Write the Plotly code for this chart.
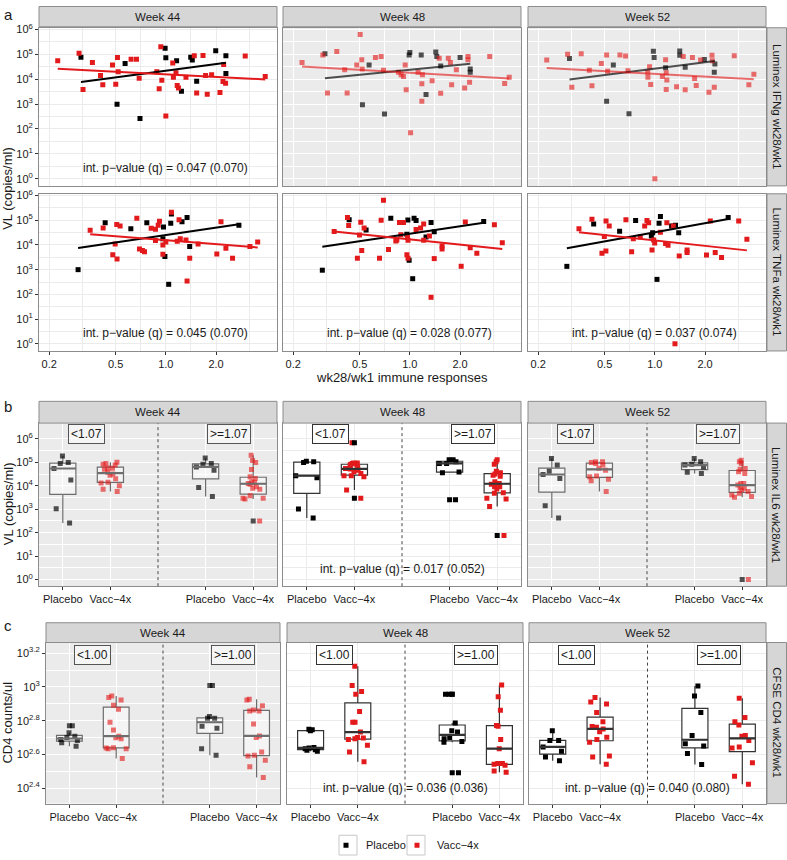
import numpy as np
import plotly.graph_objects as go

# ======================= DATA =======================
# Panel a: wk28/wk1 immune response ratio (x) vs viral load VL (copies/ml)
# --- Luminex IFNg ---
ifng_w44_plac_x = [0.31, 0.51, 0.57, 0.70, 0.99, 1.00, 1.16, 1.24, 1.41, 1.44, 1.53, 1.99, 2.29, 2.29]
ifng_w44_plac_vl = [77000, 990, 43000, 260, 176000, 73000, 55000, 3300, 77000, 59000, 8300, 140000, 87000, 17000]
ifng_w44_vacc_x = [0.225, 0.302, 0.319, 0.363, 0.406, 0.419, 0.479, 0.501, 0.513, 0.518, 0.619, 0.667, 0.692,
                   0.883, 0.912, 0.933, 0.946, 1.00, 1.10, 1.11, 1.15, 1.17, 1.19, 1.32, 1.48, 1.53, 1.67, 1.73,
                   1.77, 1.88, 2.11, 2.20, 2.22, 2.28, 2.99, 3.94]
ifng_w44_vacc_vl = [55000, 110000, 3900, 47000, 14000, 6000, 37000, 6300, 75000, 20000, 64000, 64000, 11000,
                    20000, 4100, 200000, 9100, 330, 45000, 12000, 18000, 5600, 4400, 12000, 87000, 2800, 90000,
                    14000, 2500, 15000, 2900, 8100, 39000, 6900, 85000, 13000]

ifng_w48_plac_x = [0.31, 0.52, 0.57, 0.705, 0.99, 1.00, 1.17, 1.25, 1.43, 1.45, 1.53, 2.00, 2.30, 2.30]
ifng_w48_plac_vl = [105000, 950, 37000, 400, 95000, 120000, 95000, 2400, 125000, 82000, 34000, 75000, 26000, 19000]
ifng_w48_vacc_x = [0.226, 0.301, 0.321, 0.365, 0.407, 0.421, 0.481, 0.504, 0.515, 0.518, 0.622, 0.673, 0.695,
                   0.855, 0.887, 0.916, 0.938, 0.951, 1.01, 1.12, 1.18, 1.19, 1.18, 1.36, 1.50, 1.53, 1.70, 1.75,
                   1.78, 1.90, 2.13, 2.23, 2.23, 2.28, 3.01, 3.70, 3.94]
ifng_w48_vacc_vl = [47000, 95000, 2800, 130000, 24000, 2800, 37000, 630000, 60000, 26000, 75000, 82000, 23000,
                    19000, 15000, 13000, 37000, 3800, 71, 19000, 6500, 15000, 1300, 8600, 70000, 2700, 69000,
                    47000, 6000, 24000, 4400, 82000, 60000, 7600, 82000, 6700, 12000]

ifng_w52_plac_x = [0.308, 0.514, 0.564, 0.70, 0.98, 0.99, 1.16, 1.41, 1.41, 1.52, 1.98, 2.29, 2.27]
ifng_w52_plac_vl = [68000, 1300, 37000, 410, 134000, 75000, 29000, 137000, 92000, 30000, 62000, 41000, 19000]
ifng_w52_vacc_x = [0.225, 0.300, 0.318, 0.362, 0.405, 0.42, 0.478, 0.514, 0.521, 0.618, 0.668, 0.69, 0.906,
                   0.909, 0.93, 0.944, 1.00, 1.11, 1.16, 1.17, 1.18, 1.17, 1.35, 1.48, 1.52, 1.68, 1.73, 1.77,
                   1.88, 2.11, 2.20, 2.21, 2.27, 2.99, 3.66, 3.92]
ifng_w52_vacc_vl = [59000, 100000, 4800, 105000, 23000, 5400, 43000, 95000, 21000, 95000, 86000, 22000, 19000,
                    12000, 32000, 6100, 1, 13000, 60000, 18000, 9400, 3900, 5000, 82000, 3800, 75000, 10600,
                    5600, 59000, 3000, 92000, 55000, 4800, 87000, 6000, 16000]

# --- Luminex TNFa ---
tnfa_w44_plac_x = [0.298, 0.433, 0.617, 0.769, 0.968, 0.96, 0.987, 1.04, 1.07, 1.08, 1.25, 1.34, 1.39, 2.74]
tnfa_w44_plac_vl = [1000, 79000, 45000, 79000, 53000, 18000, 3400, 255, 76000, 180000, 86000, 130000, 8600, 62000]
tnfa_w44_vacc_x = [0.352, 0.421, 0.497, 0.481, 0.508, 0.51, 0.532, 0.67, 0.695, 0.724, 0.745, 0.817, 0.867,
                   0.867, 0.90, 0.916, 0.96, 0.96, 1.00, 1.08, 1.17, 1.20, 1.22, 1.32, 1.34, 1.39, 1.56, 2.02,
                   2.14, 2.29, 2.51, 3.19, 3.55]
tnfa_w44_vacc_vl = [39000, 48000, 10800, 4000, 67000, 2700, 58000, 120000, 6900, 6000, 5300, 47000, 43000,
                    15000, 62000, 91000, 9900, 4200, 13000, 210000, 14000, 104000, 18000, 16000, 346, 2900,
                    11000, 4300, 86000, 7300, 2900, 8600, 13000]

tnfa_w48_plac_x = [0.299, 0.433, 0.547, 0.769, 0.973, 1.06, 1.09, 1.34, 1.40, 0.96, 0.99, 1.04, 1.25, 2.77]
tnfa_w48_plac_vl = [950, 105000, 40000, 120000, 103000, 120000, 97000, 80000, 34000, 27000, 2400, 430, 21000, 89000]
tnfa_w48_vacc_x = [0.352, 0.423, 0.43, 0.485, 0.508, 0.499, 0.515, 0.532, 0.658, 0.673, 0.695, 0.745, 0.836,
                   0.824, 0.867, 0.916, 0.883, 0.968, 0.975, 0.96, 0.975, 1.09, 1.16, 1.21, 1.21, 1.31, 1.34,
                   1.40, 1.56, 1.56, 2.03, 2.15, 2.30, 2.52, 3.21, 3.58]
tnfa_w48_vacc_vl = [35000, 130000, 61000, 2900, 83000, 25000, 5900, 48000, 2900, 100000, 640000, 6600, 16000,
                    14500, 80000, 80000, 26000, 20000, 15500, 4000, 2900, 42000, 49000, 71000, 15500, 23000, 76,
                    2800, 9000, 6900, 1370, 84000, 7700, 4600, 66000, 12300]

tnfa_w52_plac_x = [0.297, 0.43, 0.615, 0.767, 0.953, 0.97, 1.03, 1.06, 1.08, 1.26, 1.33, 1.39, 2.75]
tnfa_w52_plac_vl = [1360, 71000, 36000, 97000, 23000, 31000, 404, 75000, 140000, 58000, 62000, 31000, 130000]
tnfa_w52_vacc_x = [0.351, 0.42, 0.482, 0.498, 0.509, 0.51, 0.533, 0.671, 0.726, 0.743, 0.818, 0.869, 0.897,
                   0.918, 0.962, 0.984, 0.998, 1.08, 1.16, 1.18, 1.20, 1.29, 1.32, 1.40, 1.56, 1.56, 2.04, 2.15,
                   2.30, 2.51, 3.18, 3.56]
tnfa_w52_vacc_vl = [45000, 110000, 4600, 22000, 5700, 92000, 58000, 105000, 5300, 18000, 21000, 58000, 97000,
                    79000, 6300, 16000, 12000, 33000, 11500, 79000, 9800, 58000, 1, 3600, 6300, 5000, 3900,
                    92000, 4900, 3100, 92000, 17000]

# Panel b: VL (copies/ml) by Luminex IL6 wk28/wk1 group (<1.07 / >=1.07)
il6_w44_lo_plac = [186000, 88300, 97700, 54300, 17500, 1050, 261]
il6_w44_lo_vacc = [100000, 89100, 83200, 75900, 57500, 55000, 50100, 38000, 31600, 28200, 20000, 14100,
                   13200, 10000, 7080, 5620]
il6_w44_hi_plac = [88300, 45700, 83200, 151000, 63100, 8510, 3470]
il6_w44_hi_vacc = [200000, 120000, 97700, 49000, 24000, 20400, 14800, 11700, 12600, 13500, 9120, 7760, 7080,
                   3720, 2950, 2950, 2690, 316]
il6_w48_lo_plac = [105000, 110000, 97700, 26900, 21900, 1020, 427]
il6_w48_lo_vacc = [676000, 93300, 93300, 89100, 83200, 79400, 75900, 63100, 53700, 51300, 45700, 39800,
                   33100, 26900, 26900, 24000, 6610, 2950]
il6_w48_hi_plac = [129000, 129000, 105000, 89100, 89100, 38900, 35500, 2510]
il6_w48_hi_vacc = [129000, 105000, 83200, 41700, 35500, 31600, 28200, 25100, 14800, 12600, 11700, 9120, 9120,
                   7240, 5010, 4790, 2950, 2690, 1320, 76]
il6_w52_lo_plac = [145000, 75900, 41700, 30200, 20400, 1410, 427]
il6_w52_lo_vacc = [105000, 105000, 97700, 89100, 75900, 55000, 45700, 25700, 24000, 19100, 16200, 5620]
il6_w52_hi_plac = [145000, 105000, 83200, 75900, 63100, 37200, 33100]
il6_w52_hi_vacc = [123000, 105000, 89100, 53700, 50100, 39800, 33100, 12600, 12600, 10700, 8510, 7760, 6610,
                   5620, 4790, 4070, 3470, 3240, 1]

# Panel c: CD4 counts/ul by CFSE CD4 wk28/wk1 group (<1.00 / >=1.00)
cd4_w44_lo_plac = [589, 535, 511, 501, 489, 482, 467, 445]
cd4_w44_lo_vacc = [883, 865, 838, 780, 738, 617, 556, 511, 500, 493, 437, 435, 431, 431, 377]
cd4_w44_hi_plac = [1021, 668, 652, 652, 585, 569, 431, 394]
cd4_w44_hi_vacc = [845, 838, 773, 731, 721, 721, 603, 513, 501, 412, 394, 390, 368, 337, 291]
cd4_w48_lo_plac = [562, 558, 551, 438, 435, 431, 425, 421, 416]
cd4_w48_lo_vacc = [1324, 1021, 938, 904, 716, 617, 617, 540, 501, 498, 493, 489, 451, 412, 360]
cd4_w48_hi_plac = [904, 904, 611, 550, 540, 501, 493, 475, 471, 310]
cd4_w48_hi_vacc = [1026, 875, 728, 590, 585, 489, 431, 352, 352, 348, 344, 318, 312]
cd4_w52_lo_plac = [551, 482, 482, 441, 416, 385, 365]
cd4_w52_lo_vacc = [865, 815, 791, 706, 622, 582, 577, 564, 543, 504, 489, 471, 390, 385, 348]
cd4_w52_hi_plac = [1012, 883, 706, 515, 460, 447, 403, 347]
cd4_w52_hi_vacc = [857, 659, 622, 596, 515, 511, 482, 441, 435, 356, 296, 265]

weeks = ["Week 44", "Week 48", "Week 52"]
arm_labels = ["Placebo", "Vacc\u22124x"]
row_strips = ["Luminex IFNg wk28/wk1", "Luminex TNFa wk28/wk1", "Luminex IL6 wk28/wk1", "CFSE CD4 wk28/wk1"]
pvals_a = {(0, 0): "0.047 (0.070)", (1, 0): "0.045 (0.070)", (1, 1): "0.028 (0.077)", (1, 2): "0.037 (0.074)"}
pval_b = {1: "0.017 (0.052)"}
pval_c = {1: "0.036 (0.036)", 2: "0.040 (0.080)"}
cuts_b = ["&lt;1.07", "&gt;=1.07"]
cuts_c = ["&lt;1.00", "&gt;=1.00"]

a_data = {
    (0, 0): (ifng_w44_plac_x, ifng_w44_plac_vl, ifng_w44_vacc_x, ifng_w44_vacc_vl),
    (0, 1): (ifng_w48_plac_x, ifng_w48_plac_vl, ifng_w48_vacc_x, ifng_w48_vacc_vl),
    (0, 2): (ifng_w52_plac_x, ifng_w52_plac_vl, ifng_w52_vacc_x, ifng_w52_vacc_vl),
    (1, 0): (tnfa_w44_plac_x, tnfa_w44_plac_vl, tnfa_w44_vacc_x, tnfa_w44_vacc_vl),
    (1, 1): (tnfa_w48_plac_x, tnfa_w48_plac_vl, tnfa_w48_vacc_x, tnfa_w48_vacc_vl),
    (1, 2): (tnfa_w52_plac_x, tnfa_w52_plac_vl, tnfa_w52_vacc_x, tnfa_w52_vacc_vl),
}
b_data = [
    (il6_w44_lo_plac, il6_w44_lo_vacc, il6_w44_hi_plac, il6_w44_hi_vacc),
    (il6_w48_lo_plac, il6_w48_lo_vacc, il6_w48_hi_plac, il6_w48_hi_vacc),
    (il6_w52_lo_plac, il6_w52_lo_vacc, il6_w52_hi_plac, il6_w52_hi_vacc),
]
c_data = [
    (cd4_w44_lo_plac, cd4_w44_lo_vacc, cd4_w44_hi_plac, cd4_w44_hi_vacc),
    (cd4_w48_lo_plac, cd4_w48_lo_vacc, cd4_w48_hi_plac, cd4_w48_hi_vacc),
    (cd4_w52_lo_plac, cd4_w52_lo_vacc, cd4_w52_hi_plac, cd4_w52_hi_vacc),
]

# ======================= STYLE / LAYOUT =======================
W, H = 787, 860
FONT = "Liberation Sans, Arial, Helvetica, sans-serif"
TXT = "#1A1A1A"
BORDER = "#8C8C8C"
STRIP_FILL = "#D6D6D6"
GRID = "#EBEBEB"
RED, BLACK = "#E31A1C", "#000000"
RED_F, BLACK_F = "rgba(227,26,28,0.62)", "rgba(0,0,0,0.68)"
BOX_W = 0.55


def fx(p):
    return p / W


def fy(p):
    return 1 - p / H


def ax_keys(i):
    s = "" if i == 1 else str(i)
    return "xaxis" + s, "yaxis" + s, "x" + s, "y" + s


cols_ab = [(39, 277), (283, 521), (528, 766)]
cols_c = [(46, 280), (287, 523), (529, 766)]
faded_flags = [False, True, True, False, False, False, True, False, True, True, False, False]

panels = []
for r, (y0, y1) in enumerate([(22, 182), (190, 349)]):
    for c in range(3):
        panels.append(dict(kind="a", row=r, col=c, x0=cols_ab[c][0], x1=cols_ab[c][1], y0=y0, y1=y1))
for c in range(3):
    panels.append(dict(kind="b", row=0, col=c, x0=cols_ab[c][0], x1=cols_ab[c][1], y0=422, y1=587))
for c in range(3):
    panels.append(dict(kind="c", row=0, col=c, x0=cols_c[c][0], x1=cols_c[c][1], y0=644, y1=807))

decade_vals = [1, 10, 100, 1e3, 1e4, 1e5, 1e6]
decade_txt = ["10<sup>%d</sup>" % k for k in range(7)]
half_decades = [3.162, 31.62, 316.2, 3162, 31623, 316228]
cd4_ticks = [251.2, 398.1, 631.0, 1000, 1584.9]
cd4_txt = ["10<sup>2.4</sup>", "10<sup>2.6</sup>", "10<sup>2.8</sup>", "10<sup>3</sup>", "10<sup>3.2</sup>"]
cd4_minor = [316.2, 501.2, 794.3, 1258.9]

fig = go.Figure()
layout = dict(width=W, height=H, margin=dict(l=0, r=0, t=0, b=0), plot_bgcolor="white",
              paper_bgcolor="white", font=dict(family=FONT, color=TXT, size=12), boxmode="overlay")
shapes, annotations = [], []


def text(x, y, s, size=12, xref="paper", yref="paper", angle=0, xanchor="center", yanchor="middle", **kw):
    d = dict(x=x, y=y, text=s, xref=xref, yref=yref, showarrow=False, textangle=angle,
             xanchor=xanchor, yanchor=yanchor, font=dict(size=size, color=TXT, family=FONT))
    d.update(kw)
    annotations.append(d)


for i, p in enumerate(panels, start=1):
    xk, yk, xr, yr = ax_keys(i)
    faded = faded_flags[i - 1]
    p["faded"] = faded
    gc = "white" if faded else GRID
    show_x = (p["kind"] != "a") or p["row"] == 1
    show_y = p["col"] == 0
    common = dict(showline=True, mirror=True, linecolor=BORDER, linewidth=1, zeroline=False,
                  showgrid=True, gridcolor=gc, gridwidth=1, tickcolor="#333", tickwidth=1, ticklen=3,
                  tickfont=dict(size=11, color=TXT, family=FONT))
    xa = dict(common, domain=[fx(p["x0"]), fx(p["x1"])], anchor=yr,
              showticklabels=show_x, ticks="outside" if show_x else "")
    ya = dict(common, domain=[fy(p["y1"]), fy(p["y0"])], anchor=xr,
              showticklabels=show_y, ticks="outside" if show_y else "")
    if p["kind"] == "a":
        xa.update(type="log", range=[-0.76, 0.666], tickmode="array", tickvals=[0.2, 0.5, 1, 2],
                  ticktext=["0.2", "0.5", "1.0", "2.0"],
                  minor=dict(tickvals=[0.316, 0.707, 1.414, 3.162], showgrid=True, gridcolor=gc, gridwidth=0.5))
        ya.update(type="log", range=[-0.29, 6.07], tickmode="array", tickvals=decade_vals, ticktext=decade_txt,
                  minor=dict(tickvals=half_decades, showgrid=True, gridcolor=gc, gridwidth=0.5))
    else:
        xa.update(type="linear", range=[0.5, 5.5], tickmode="array", tickvals=[1, 2, 4, 5],
                  ticktext=arm_labels * 2)
        if p["kind"] == "b":
            ya.update(type="log", range=[-0.28, 6.67], tickmode="array", tickvals=decade_vals,
                      ticktext=decade_txt,
                      minor=dict(tickvals=half_decades, showgrid=True, gridcolor=gc, gridwidth=0.5))
        else:
            ya.update(type="log", range=[2.309, 3.263], tickmode="array", tickvals=cd4_ticks, ticktext=cd4_txt,
                      minor=dict(tickvals=cd4_minor, showgrid=True, gridcolor=gc, gridwidth=0.5))
    layout[xk] = xa
    layout[yk] = ya
    if faded:
        shapes.append(dict(type="rect", xref=xr + " domain", yref=yr + " domain", x0=0, x1=1, y0=0, y1=1,
                           fillcolor="#EBEBEB", line=dict(width=0), layer="below"))

# ---------- panel a traces ----------
def fit_line(x, y):
    lx, ly = np.log10(np.asarray(x, float)), np.log10(np.asarray(y, float))
    b, a = np.polyfit(lx, ly, 1)
    xs = np.array([min(x), max(x)], float)
    return xs, 10 ** (a + b * np.log10(xs))


for i, p in enumerate(panels, start=1):
    if p["kind"] != "a":
        continue
    xk, yk, xr, yr = ax_keys(i)
    px, py, vx, vy = a_data[(p["row"], p["col"])]
    faded = p["faded"]
    cb, cr = (BLACK_F, RED_F) if faded else (BLACK, RED)
    first = (i == 1)
    fig.add_trace(go.Scatter(x=px, y=py, mode="markers", name=arm_labels[0], legend="legend",
                             showlegend=first, marker=dict(symbol="square", size=5, color=cb),
                             xaxis=xr, yaxis=yr))
    fig.add_trace(go.Scatter(x=vx, y=vy, mode="markers", name=arm_labels[1], legend="legend2",
                             showlegend=first, marker=dict(symbol="square", size=5, color=cr),
                             xaxis=xr, yaxis=yr))
    for xs_, ys_, col in ((px, py, cb), (vx, vy, cr)):
        lx, ly = fit_line(xs_, ys_)
        fig.add_trace(go.Scatter(x=lx, y=ly, mode="lines", line=dict(color=col, width=2),
                                 showlegend=False, hoverinfo="skip", xaxis=xr, yaxis=yr))
    key = (p["row"], p["col"])
    if key in pvals_a:
        text(0, 0.42, "int. p\u2212value (q) = " + pvals_a[key], xref=xr, yref=yr)


# ---------- panels b and c ----------
def box_stats(vals):
    v = np.asarray(vals, float)
    lv = np.log10(v)
    q1, med, q3 = np.percentile(lv, [25, 50, 75])
    iqr = q3 - q1
    lo, hi = q1 - 1.5 * iqr, q3 + 1.5 * iqr
    inside = lv[(lv >= lo) & (lv <= hi)]
    out = v[(lv < lo) | (lv > hi)]
    return dict(q1=10 ** q1, median=10 ** med, q3=10 ** q3,
                lowerfence=10 ** inside.min(), upperfence=10 ** inside.max()), out


positions = [1, 2, 4, 5]
for i, p in enumerate(panels, start=1):
    if p["kind"] == "a":
        continue
    xk, yk, xr, yr = ax_keys(i)
    faded = p["faded"]
    groups = (b_data if p["kind"] == "b" else c_data)[p["col"]]
    line_c = "#6E6E6E" if faded else "#333333"
    fill_c = "rgba(255,255,255,0.45)" if faded else "white"
    for gi, (pos, vals) in enumerate(zip(positions, groups)):
        is_vacc = gi % 2 == 1
        mc = (RED_F if faded else RED) if is_vacc else (BLACK_F if faded else BLACK)
        st, out = box_stats(vals)
        fig.add_trace(go.Box(x=[pos], q1=[st["q1"]], median=[st["median"]], q3=[st["q3"]],
                             lowerfence=[st["lowerfence"]], upperfence=[st["upperfence"]],
                             orientation="v", width=BOX_W, whiskerwidth=0, boxpoints=False,
                             line=dict(color=line_c, width=1.2), fillcolor=fill_c,
                             showlegend=False, hoverinfo="skip", xaxis=xr, yaxis=yr))
        # thicker median bar (ggplot style)
        fig.add_trace(go.Scatter(x=[pos - BOX_W / 2, pos + BOX_W / 2], y=[st["median"]] * 2, mode="lines",
                                 line=dict(color=line_c, width=2.2), showlegend=False, hoverinfo="skip",
                                 xaxis=xr, yaxis=yr))
        if len(out):
            fig.add_trace(go.Scatter(x=[pos] * len(out), y=out, mode="markers",
                                     marker=dict(symbol="square", size=5, color=BLACK_F if faded else BLACK),
                                     showlegend=False, hoverinfo="skip", xaxis=xr, yaxis=yr))
        fig.add_trace(go.Box(y=vals, x0=pos, boxpoints="all", jitter=1.0, pointpos=0, width=BOX_W,
                             whiskerwidth=0, line=dict(color="rgba(0,0,0,0)", width=0),
                             fillcolor="rgba(0,0,0,0)",
                             marker=dict(symbol="square", size=5, color=mc),
                             showlegend=False, hoverinfo="skip", xaxis=xr, yaxis=yr))
    # dotted separator between cut groups
    shapes.append(dict(type="line", xref=xr, yref=yr + " domain", x0=3, x1=3, y0=0, y1=1,
                       line=dict(color="#444", width=1, dash="dot")))
    cuts = cuts_b if p["kind"] == "b" else cuts_c
    ylab = 6.21 if p["kind"] == "b" else 3.19
    for cx, ct in zip([1.5, 4.5], cuts):
        text(cx, ylab, ct, xref=xr, yref=yr, bordercolor="#555" if faded else "#333", borderwidth=1,
             borderpad=2, bgcolor="rgba(255,255,255,0.5)" if faded else "white")
    pv = (pval_b if p["kind"] == "b" else pval_c).get(p["col"])
    if pv:
        text(3, 0.46 if p["kind"] == "b" else 2.4, "int. p\u2212value (q) = " + pv, xref=xr, yref=yr)

# ---------- strips ----------
def strip(x0, x1, y0, y1, label, angle=0):
    shapes.append(dict(type="rect", xref="paper", yref="paper", x0=fx(x0), x1=fx(x1), y0=fy(y1), y1=fy(y0),
                       fillcolor=STRIP_FILL, line=dict(color=BORDER, width=1)))
    text(fx((x0 + x1) / 2), fy((y0 + y1) / 2), label, size=11.5, angle=angle)


for c in range(3):
    strip(cols_ab[c][0], cols_ab[c][1], 0.5, 21, weeks[c])
    strip(cols_ab[c][0], cols_ab[c][1], 400, 422, weeks[c])
    strip(cols_c[c][0], cols_c[c][1], 624, 644, weeks[c])
for (y0, y1), lab in zip([(22, 182), (190, 349)] + [(422, 587), (644, 807)], row_strips):
    strip(767, 786.5, y0, y1, lab, angle=90)

# legend key boxes (ggplot-style)
for kx0, kx1 in ((339, 357), (407, 425)):
    shapes.append(dict(type="rect", xref="paper", yref="paper", x0=fx(kx0), x1=fx(kx1), y0=fy(859),
                       y1=fy(839), fillcolor="white", line=dict(color="#C8C8C8", width=1), layer="below"))

# ---------- titles / labels ----------
text(fx(2), fy(9), "a", size=15, xanchor="left")
text(fx(2), fy(405), "b", size=15, xanchor="left")
text(fx(2), fy(627), "c", size=15, xanchor="left")
text(fx(8), fy(185), "VL (copies/ml)", size=13, angle=-90)
text(fx(8), fy(504), "VL (copies/ml)", size=13, angle=-90)
text(fx(8), fy(725), "CD4 counts/ul", size=13, angle=-90)
text(fx(402), fy(376), "wk28/wk1 immune responses", size=13)

layout["shapes"] = shapes
layout["annotations"] = annotations
leg_common = dict(orientation="h", xanchor="left", y=fy(849), yanchor="middle",
                  font=dict(size=11, family=FONT, color=TXT), bgcolor="rgba(0,0,0,0)",
                  itemwidth=30, tracegroupgap=0, borderwidth=0)
layout["legend"] = dict(leg_common, x=fx(326))
layout["legend2"] = dict(leg_common, x=fx(397))
fig.update_layout(**layout)
fig.write_html("out.html", config={"displayModeBar": False},
               post_script="document.body.style.margin='0px';")
